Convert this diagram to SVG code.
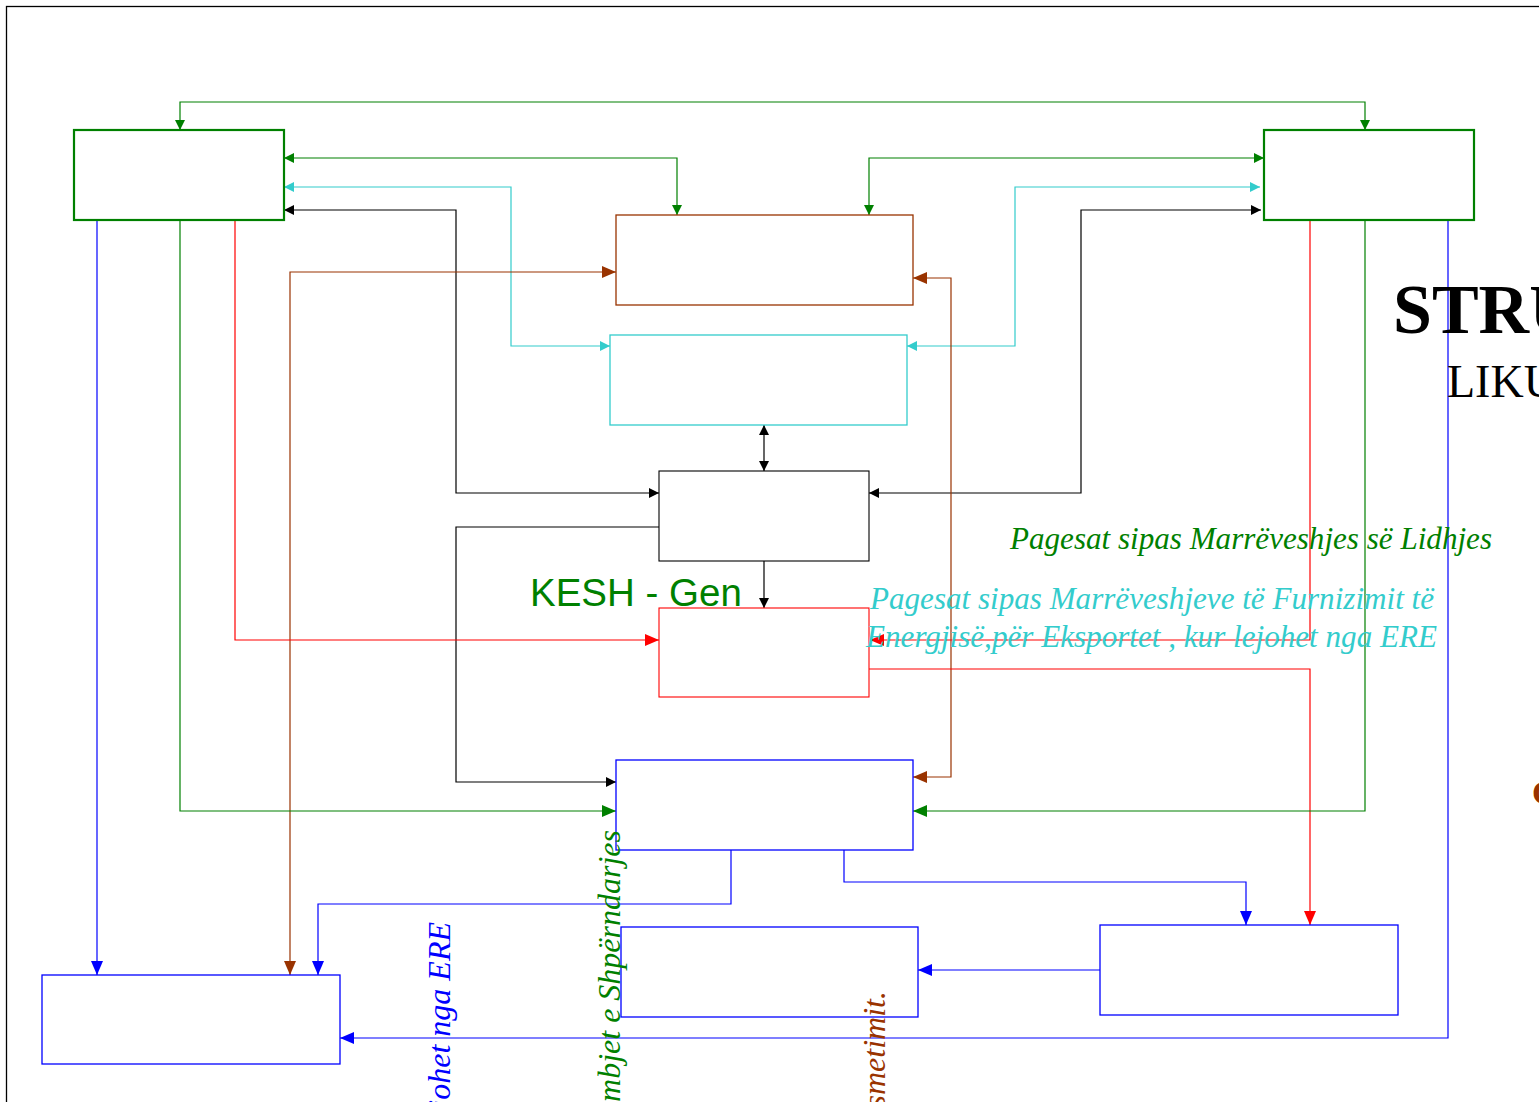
<svg xmlns="http://www.w3.org/2000/svg" width="1539" height="1102" viewBox="0 0 1539 1102">
<style>
.n{fill:#fff}
.c{fill:none;stroke-width:1.2}
.g{stroke:#008000}.cy{stroke:#33CCCC}.k{stroke:#000}.br{stroke:#993300}.r{stroke:#FF0000}.b{stroke:#0000FF}
.it{font-family:"Liberation Serif","Times New Roman",serif;font-style:italic;font-size:31px}
.rt{font-size:32px}
</style>
<defs>
<marker id="gs" markerUnits="userSpaceOnUse" markerWidth="12" markerHeight="10" refX="10" refY="5" orient="auto-start-reverse"><path d="M0,0L10,5L0,10z" fill="#008000"/></marker>
<marker id="gl" markerUnits="userSpaceOnUse" markerWidth="16" markerHeight="12" refX="14" refY="6" orient="auto-start-reverse"><path d="M0,0L14,6L0,12z" fill="#008000"/></marker>
<marker id="cs" markerUnits="userSpaceOnUse" markerWidth="12" markerHeight="10" refX="10" refY="5" orient="auto-start-reverse"><path d="M0,0L10,5L0,10z" fill="#33CCCC"/></marker>
<marker id="ks" markerUnits="userSpaceOnUse" markerWidth="12" markerHeight="10" refX="10" refY="5" orient="auto-start-reverse"><path d="M0,0L10,5L0,10z" fill="#000"/></marker>
<marker id="bl" markerUnits="userSpaceOnUse" markerWidth="16" markerHeight="12" refX="14" refY="6" orient="auto-start-reverse"><path d="M0,0L14,6L0,12z" fill="#993300"/></marker>
<marker id="rl" markerUnits="userSpaceOnUse" markerWidth="16" markerHeight="12" refX="14" refY="6" orient="auto-start-reverse"><path d="M0,0L14,6L0,12z" fill="#FF0000"/></marker>
<marker id="ul" markerUnits="userSpaceOnUse" markerWidth="16" markerHeight="12" refX="14" refY="6" orient="auto-start-reverse"><path d="M0,0L14,6L0,12z" fill="#0000FF"/></marker>
</defs>
<rect x="6.5" y="6.5" width="1700" height="1300" fill="#fff" stroke="#000" stroke-width="1.3"/>

<g id="connectors">
<path class="c g" d="M180,130V102H1365V130" marker-start="url(#gs)" marker-end="url(#gs)"/>
<path class="c g" d="M284,158H677V215" marker-start="url(#gs)" marker-end="url(#gs)"/>
<path class="c g" d="M869,215V158H1264" marker-start="url(#gs)" marker-end="url(#gs)"/>
<path class="c cy" d="M284,187H511V346H610" marker-start="url(#cs)" marker-end="url(#cs)"/>
<path class="c cy" d="M907,346H1015V187H1260" marker-start="url(#cs)" marker-end="url(#cs)"/>
<path class="c k" d="M284,210H456V493H659" marker-start="url(#ks)" marker-end="url(#ks)"/>
<path class="c k" d="M1261,210H1081V493H869" marker-start="url(#ks)" marker-end="url(#ks)"/>
<path class="c k" d="M764,425V471" marker-start="url(#ks)" marker-end="url(#ks)"/>
<path class="c k" d="M764,561V608" marker-end="url(#ks)"/>
<path class="c k" d="M659,527H456V782H616" marker-end="url(#ks)"/>
<path class="c br" d="M616,272H290V975" marker-start="url(#bl)" marker-end="url(#bl)"/>
<path class="c br" d="M913,278H951V777H913" marker-start="url(#bl)" marker-end="url(#bl)"/>
<path class="c b" d="M97,220V975" marker-end="url(#ul)"/>
<path class="c g" d="M180,220V811H616" marker-end="url(#gl)"/>
<path class="c r" d="M235,220V640H659" marker-end="url(#rl)"/>
<path class="c r" d="M1310,220V640H870" marker-end="url(#rl)"/>
<path class="c r" d="M869,669H1310V925" marker-end="url(#rl)"/>
<path class="c g" d="M1365,220V811H913" marker-end="url(#gl)"/>
<path class="c b" d="M1448,220V1038H340" marker-end="url(#ul)"/>
<path class="c b" d="M731,850V904H318V975" marker-end="url(#ul)"/>
<path class="c b" d="M844,850V882H1246V925" marker-end="url(#ul)"/>
<path class="c b" d="M1100,970H918" marker-end="url(#ul)"/>
</g>

<g id="node-tl"><rect class="n" x="74" y="130" width="210" height="90" stroke="#008000" stroke-width="2.2"/></g>
<g id="node-tr"><rect class="n" x="1264" y="130" width="210" height="90" stroke="#008000" stroke-width="2.2"/></g>
<g id="node-brown"><rect class="n" x="616" y="215" width="297" height="90" stroke="#993300" stroke-width="1.3"/></g>
<g id="node-cyan"><rect class="n" x="610" y="335" width="297" height="90" stroke="#33CCCC" stroke-width="1.3"/></g>
<g id="node-black"><rect class="n" x="659" y="471" width="210" height="90" stroke="#000" stroke-width="1.1"/></g>
<g id="node-red"><rect class="n" x="659" y="608" width="210" height="89" stroke="#FF0000" stroke-width="1.1" fill-opacity="0"/></g>
<g id="node-bluemid"><rect class="n" x="616" y="760" width="297" height="90" stroke="#0000FF" stroke-width="1.3"/></g>
<g id="node-bl"><rect class="n" x="42" y="975" width="298" height="89" stroke="#0000FF" stroke-width="1.3"/></g>
<g id="node-bm"><rect class="n" x="621" y="927" width="297" height="90" stroke="#0000FF" stroke-width="1.3"/></g>
<g id="node-br"><rect class="n" x="1100" y="925" width="298" height="90" stroke="#0000FF" stroke-width="1.3"/></g>

<g id="labels">
<text x="1393" y="333" font-family="Liberation Serif,serif" font-weight="bold" font-size="70">STRU</text>
<text x="1447" y="397" font-family="Liberation Serif,serif" font-size="46">LIKU</text>
<text x="1532" y="804" font-family="Liberation Serif,serif" font-weight="bold" font-size="34" fill="#993300">C</text>
<text class="it" x="1010" y="549" fill="#008000" textLength="482" lengthAdjust="spacingAndGlyphs">Pagesat sipas Marrëveshjes së Lidhjes</text>
<text class="it" x="870" y="609" fill="#33CCCC" textLength="564" lengthAdjust="spacingAndGlyphs">Pagesat sipas Marrëveshjeve të Furnizimit të</text>
<text class="it" x="866" y="647" fill="#33CCCC" textLength="571" lengthAdjust="spacingAndGlyphs">Energjisë,për Eksportet , kur lejohet nga ERE</text>
<text x="530" y="606" font-family="Liberation Sans,Arial,sans-serif" font-size="38.5" fill="#008000">KESH - Gen</text>
<text class="it rt" transform="translate(450,922) rotate(-90)" text-anchor="end" fill="#0000FF">johet nga ERE</text>
<text class="it rt" transform="translate(620,830) rotate(-90)" text-anchor="end" fill="#008000">mbjet e Shpërndarjes</text>
<text class="it rt" transform="translate(885,991) rotate(-90)" text-anchor="end" fill="#993300">smetimit.</text>
</g>
</svg>
